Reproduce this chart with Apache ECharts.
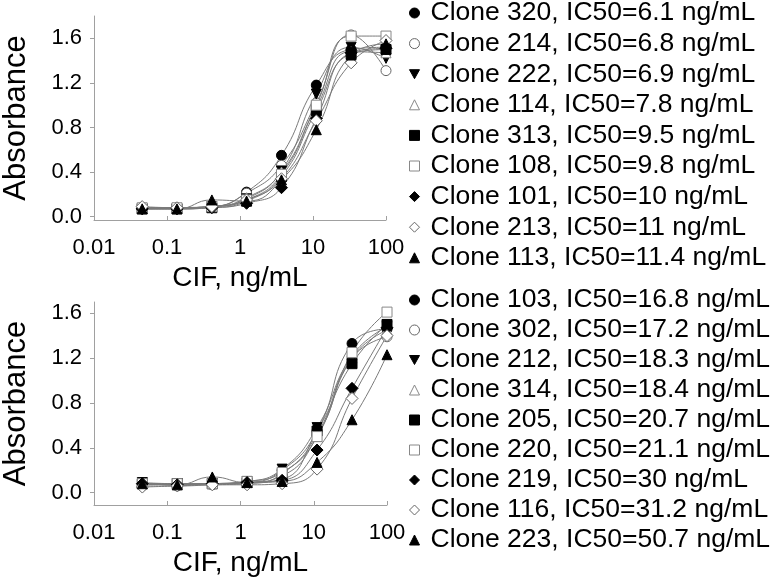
<!DOCTYPE html>
<html>
<head>
<meta charset="utf-8">
<script src="https://cdn.jsdelivr.net/npm/echarts@6/dist/echarts.min.js"></script>
<style>
  html, body { margin: 0; padding: 0; background: #fff; }
  #chart { width: 772px; height: 578px; }
</style>
</head>
<body>
<div id="chart"></div>
<script>
// CIF doses (3-fold dilutions), ng/mL
const doses = [0.0457, 0.137, 0.412, 1.23, 3.70, 11.1, 33.3, 100];
const yTicks = [0, 0.4, 0.8, 1.2, 1.6];

// upper panel
const topNames = [
    'Clone 320, IC50=6.1 ng/mL', 'Clone 214, IC50=6.8 ng/mL', 'Clone 222, IC50=6.9 ng/mL',
    'Clone 114, IC50=7.8 ng/mL', 'Clone 313, IC50=9.5 ng/mL', 'Clone 108, IC50=9.8 ng/mL',
    'Clone 101, IC50=10 ng/mL', 'Clone 213, IC50=11 ng/mL', 'Clone 113, IC50=11.4 ng/mL'
];
const clone320 = [0.07, 0.08, 0.09, 0.22, 0.55, 1.18, 1.50, 1.52];
const clone214 = [0.08, 0.08, 0.09, 0.21, 0.46, 1.02, 1.63, 1.31];
const clone222 = [0.07, 0.07, 0.09, 0.16, 0.41, 1.10, 1.52, 1.42];
const clone114 = [0.08, 0.08, 0.09, 0.17, 0.40, 0.98, 1.48, 1.47];
const clone313 = [0.07, 0.07, 0.08, 0.14, 0.36, 0.95, 1.46, 1.50];
const clone108 = [0.08, 0.08, 0.09, 0.15, 0.38, 1.00, 1.62, 1.62];
const clone101 = [0.07, 0.07, 0.08, 0.12, 0.26, 0.88, 1.47, 1.51];
const clone213 = [0.09, 0.08, 0.09, 0.15, 0.34, 0.86, 1.38, 1.58];
const clone113 = [0.07, 0.07, 0.15, 0.14, 0.33, 0.78, 1.45, 1.55];

// lower panel
const bottomNames = [
    'Clone 103, IC50=16.8 ng/mL', 'Clone 302, IC50=17.2 ng/mL', 'Clone 212, IC50=18.3 ng/mL',
    'Clone 314, IC50=18.4 ng/mL', 'Clone 205, IC50=20.7 ng/mL', 'Clone 220, IC50=21.1 ng/mL',
    'Clone 219, IC50=30 ng/mL', 'Clone 116, IC50=31.2 ng/mL', 'Clone 223, IC50=50.7 ng/mL'
];
const clone103 = [0.08, 0.07, 0.08, 0.09, 0.20, 0.55, 1.33, 1.46];
const clone302 = [0.06, 0.06, 0.07, 0.08, 0.17, 0.52, 1.20, 1.39];
const clone212 = [0.09, 0.08, 0.08, 0.10, 0.21, 0.58, 1.22, 1.48];
const clone314 = [0.08, 0.07, 0.08, 0.09, 0.15, 0.50, 1.20, 1.45];
const clone205 = [0.08, 0.08, 0.08, 0.09, 0.12, 0.55, 1.15, 1.50];
const clone220 = [0.08, 0.08, 0.08, 0.10, 0.18, 0.50, 1.25, 1.61];
const clone219 = [0.08, 0.07, 0.08, 0.09, 0.11, 0.38, 0.93, 1.47];
const clone116 = [0.05, 0.06, 0.07, 0.07, 0.08, 0.21, 0.84, 1.40];
const clone223 = [0.08, 0.07, 0.14, 0.09, 0.10, 0.27, 0.65, 1.23];

const topValues = [clone320, clone214, clone222, clone114, clone313, clone108, clone101, clone213, clone113];
const bottomValues = [clone103, clone302, clone212, clone314, clone205, clone220, clone219, clone116, clone223];

// marker styles, same order in both panels
const triDown = 'path://M0,0L10,0L5,9Z';
const markers = [
    { symbol: 'circle', fill: '#000', border: '#000' },
    { symbol: 'circle', fill: '#fff', border: '#666' },
    { symbol: triDown, fill: '#000', border: '#000' },
    { symbol: 'triangle', fill: '#fff', border: '#888' },
    { symbol: 'rect', fill: '#000', border: '#000' },
    { symbol: 'rect', fill: '#fff', border: '#888' },
    { symbol: 'diamond', fill: '#000', border: '#000' },
    { symbol: 'diamond', fill: '#fff', border: '#666' },
    { symbol: 'triangle', fill: '#000', border: '#000' }
];

const font = 'Liberation Sans, Arial, sans-serif';

function makeSeries(names, values, idx) {
    return names.map((name, i) => ({
        name: name,
        type: 'line',
        xAxisIndex: idx,
        yAxisIndex: idx,
        data: doses.map((d, j) => [d, values[i][j]]),
        smooth: 0.5,
        clip: false,
        symbol: markers[i].symbol,
        symbolSize: markers[i].symbol === 'diamond' ? 12 : 10,
        lineStyle: { color: '#7a7a7a', width: 1 },
        itemStyle: { color: markers[i].fill, borderColor: markers[i].border, borderWidth: 1 }
    }));
}

function makeLegend(names, top, gap) {
    return {
        orient: 'vertical',
        left: 409,
        top: top,
        padding: 0,
        itemWidth: 10,
        itemHeight: 10,
        itemGap: gap,
        selectedMode: false,
        textStyle: { fontFamily: font, fontSize: 26.5, color: '#000', lineHeight: 28, padding: [0, 0, 0, 6] },
        data: names.map((n, i) => ({
            name: n,
            icon: markers[i].symbol,
            itemStyle: { color: markers[i].fill, borderColor: markers[i].border, borderWidth: 1 }
        }))
    };
}

function makeXAxis(idx) {
    return {
        type: 'log',
        gridIndex: idx,
        logBase: 10,
        min: 0.01,
        max: 100,
        name: 'CIF, ng/mL',
        nameLocation: 'middle',
        nameGap: 44,
        nameTextStyle: { fontFamily: font, fontSize: 28, color: '#000' },
        axisLine: { onZero: false, lineStyle: { color: '#a0a0a0', width: 1 } },
        axisTick: { inside: true, length: 4, lineStyle: { color: '#a0a0a0' } },
        splitLine: { show: false },
        minorTick: { show: false },
        axisLabel: {
            fontFamily: font, fontSize: 22, color: '#000', margin: 17,
            formatter: v => String(parseFloat(v.toPrecision(3)))
        }
    };
}

function makeYAxis(idx, min, max) {
    return {
        type: 'value',
        gridIndex: idx,
        min: min,
        max: max,
        name: 'Absorbance',
        nameLocation: 'middle',
        nameGap: 62,
        nameTextStyle: { fontFamily: font, fontSize: 31, color: '#000' },
        axisLine: { show: true, lineStyle: { color: '#a0a0a0', width: 1 } },
        axisTick: { show: true, length: 4, customValues: yTicks, lineStyle: { color: '#a0a0a0' } },
        splitLine: { show: false },
        axisLabel: {
            fontFamily: font, fontSize: 22, color: '#000', margin: 12,
            customValues: yTicks,
            formatter: v => v.toFixed(1)
        }
    };
}

const myChart = echarts.init(document.getElementById('chart'), null, { renderer: 'canvas' });
myChart.setOption({
    backgroundColor: '#fff',
    animation: false,
    grid: [
        { left: 89, top: 16, width: 297, height: 204 },
        { left: 91, top: 302, width: 296, height: 207 }
    ],
    xAxis: [makeXAxis(0), makeXAxis(1)],
    yAxis: [makeYAxis(0, -0.03, 1.8), makeYAxis(1, -0.11, 1.7)],
    legend: [makeLegend(topNames, -1, 2.6), makeLegend(bottomNames, 286, 2)],
    series: makeSeries(topNames, topValues, 0).concat(makeSeries(bottomNames, bottomValues, 1))
});
</script>
</body>
</html>
